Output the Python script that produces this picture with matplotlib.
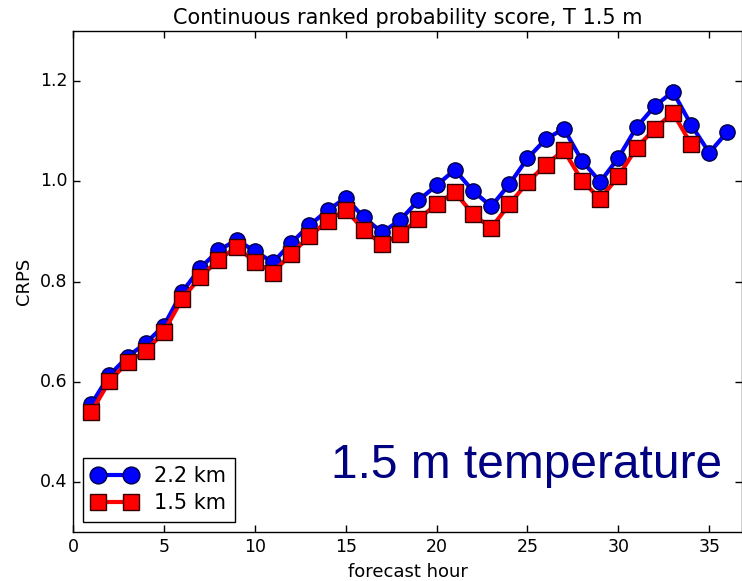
import numpy as np
import matplotlib
matplotlib.use('Agg')
import matplotlib.pyplot as plt

# CRPS for 1.5 m temperature by forecast hour
hours_22 = np.arange(1, 37)
crps_22 = [0.555, 0.613, 0.650, 0.677, 0.712, 0.779, 0.827, 0.862, 0.883,
           0.861, 0.838, 0.877, 0.912, 0.942, 0.967, 0.928, 0.898, 0.923,
           0.962, 0.992, 1.023, 0.981, 0.950, 0.994, 1.046, 1.084, 1.105,
           1.041, 0.999, 1.047, 1.108, 1.150, 1.179, 1.113, 1.057, 1.099]

hours_15 = np.arange(1, 35)
crps_15 = [0.539, 0.601, 0.639, 0.661, 0.700, 0.765, 0.809, 0.843, 0.869,
           0.839, 0.818, 0.855, 0.890, 0.921, 0.943, 0.903, 0.874, 0.895,
           0.925, 0.954, 0.979, 0.934, 0.907, 0.954, 0.998, 1.033, 1.062,
           1.001, 0.965, 1.010, 1.067, 1.105, 1.137, 1.074]

x_ticks = [0, 5, 10, 15, 20, 25, 30, 35]
y_ticks = [0.4, 0.6, 0.8, 1.0, 1.2]

plt.style.use('classic')
fig = plt.figure(figsize=(7.42, 5.81), dpi=100, facecolor='white')
ax = fig.add_axes([0.0984, 0.0843, 0.9016, 0.8623])

ax.plot(hours_22, crps_22, 'o-', color='blue', lw=3, ms=11,
        mec='#000044', mew=1, label='2.2 km')
ax.plot(hours_15, crps_15, 's-', color='red', lw=3, ms=11,
        mec='#330000', mew=1, label='1.5 km')

ax.set_xlim(0, 36.8)
ax.set_ylim(0.3, 1.3)
ax.set_xticks(x_ticks)
ax.set_yticks(y_ticks)
ax.tick_params(labelsize=12.5, direction='in', length=5, width=1,
               top=True, right=True)
ax.set_xlabel('forecast hour', fontsize=13)
ax.set_ylabel('CRPS', fontsize=13)
ax.set_title('Continuous ranked probability score, T 1.5 m', fontsize=15)

ax.legend(loc='lower left', numpoints=2, fontsize=15, frameon=True,
          borderpad=0.4, handlelength=2.2, labelspacing=0.35,
          markerscale=1.1)

ax.text(0.970, 0.108, '1.5 m temperature', transform=ax.transAxes,
        ha='right', va='baseline', fontsize=34.5, color='#000080',
        family='Liberation Sans')

fig.savefig('out.png', dpi=100, facecolor='white')
